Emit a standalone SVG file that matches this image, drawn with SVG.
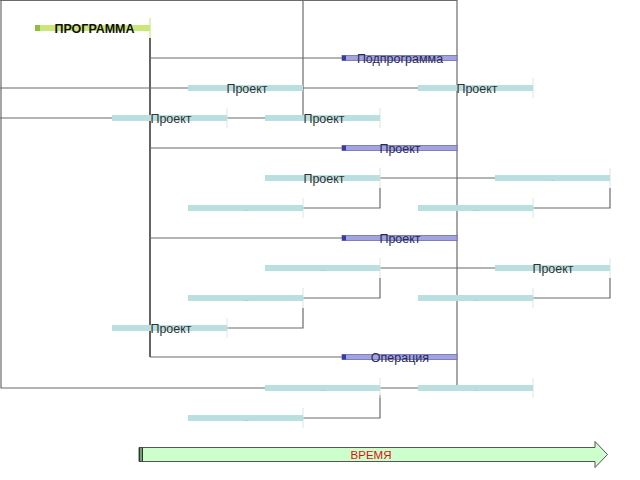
<svg xmlns="http://www.w3.org/2000/svg" width="640" height="480" viewBox="0 0 640 480">
<style>
.ln{fill:none;stroke:#6b6b6b;stroke-width:1.2}
.main{fill:none;stroke:#222;stroke-width:1.4}
.tb{fill:#b9dfe0}
.tk{stroke:#d6e6e6;stroke-width:1}
.pb{fill:#a3a3e0;stroke:#6a6ab8;stroke-width:0.8}
.pd{fill:#3a3aa0}
.t{font-family:"Liberation Sans",Arial,sans-serif;font-size:12.5px;fill:#333;text-anchor:middle}
.tp{font-family:"Liberation Sans",Arial,sans-serif;font-size:12.5px;fill:#2a2a55;text-anchor:middle}
.s{font-family:"Liberation Sans",Arial,sans-serif;font-size:6px;fill:#999;text-anchor:middle}
</style>
<rect width="640" height="480" fill="#fff"/>
<g id="connectors">
<path class="ln" d="M0,0.5 H457"/>
<path class="ln" d="M1,0 V388 H265"/>
<path class="ln" d="M457,0 V387"/>
<path class="ln" d="M303,0 V115"/>
<path class="main" d="M150,38 V357"/>
<path class="ln" d="M150,58 H342"/>
<path class="ln" d="M0,88 H188 M303,88 H418"/>
<path class="ln" d="M0,118 H112 M227,118 H265"/>
<path class="ln" d="M150,148 H342"/>
<path class="ln" d="M380,178 H495 M380,188 V208 H303 M610,188 V208 H533"/>
<path class="ln" d="M150,238 H342"/>
<path class="ln" d="M380,268 H495 M380,278 V298 H303 M610,278 V298 H533"/>
<path class="ln" d="M303,308 V328 H227"/>
<path class="ln" d="M150,357 H342"/>
<path class="ln" d="M380,388 H418 M380,395 V418 H303"/>
</g>
<g id="programma">
<line x1="150" y1="18" x2="150" y2="38" stroke="#d8ec9a" stroke-width="1.5"/>
<rect x="35" y="25" width="115" height="6" fill="#cde67a"/>
<rect x="35" y="25" width="5" height="6" fill="#8cc03a"/>
<text x="94.5" y="32.5" font-family="'Liberation Sans',Arial,sans-serif" font-size="12.5" font-weight="bold" fill="#111" text-anchor="middle">ПРОГРАММА</text>
</g>
<g id="podprogramma"><rect class="pb" x="342" y="55.5" width="115" height="5"/><rect class="pd" x="342" y="55.5" width="4" height="5"/><text class="tp" x="400" y="63">Подпрограмма</text></g>
<g id="p88a"><rect class="tb" x="188" y="85" width="115" height="6"/><text class="t" x="247" y="92.5">Проект</text></g>
<g id="p88b"><line class="tk" x1="533" y1="78" x2="533" y2="98"/><rect class="tb" x="418" y="85" width="115" height="6"/><text class="t" x="477" y="92.5">Проект</text></g>
<g id="p118a"><line class="tk" x1="227" y1="108" x2="227" y2="128"/><rect class="tb" x="112" y="115" width="115" height="6"/><text class="t" x="171" y="122.5">Проект</text></g>
<g id="p118b"><line class="tk" x1="380" y1="108" x2="380" y2="128"/><rect class="tb" x="265" y="115" width="115" height="6"/><text class="t" x="324" y="122.5">Проект</text></g>
<g id="pp148"><rect class="pb" x="342" y="145.5" width="115" height="5"/><rect class="pd" x="342" y="145.5" width="4" height="5"/><text class="tp" x="400" y="153">Проект</text></g>
<g id="p178a"><line class="tk" x1="380" y1="168" x2="380" y2="188"/><rect class="tb" x="265" y="175" width="115" height="6"/><text class="t" x="324" y="182.5">Проект</text></g>
<g id="p178b"><line class="tk" x1="610" y1="168" x2="610" y2="188"/><rect class="tb" x="495" y="175" width="115" height="6"/><text class="s" x="553" y="181">..</text></g>
<g id="p208a"><line class="tk" x1="303" y1="198" x2="303" y2="218"/><rect class="tb" x="188" y="205" width="115" height="6"/><text class="s" x="246" y="211">..</text></g>
<g id="p208b"><line class="tk" x1="533" y1="198" x2="533" y2="218"/><rect class="tb" x="418" y="205" width="115" height="6"/><text class="s" x="476" y="211">....</text></g>
<g id="pp238"><rect class="pb" x="342" y="235.5" width="115" height="5"/><rect class="pd" x="342" y="235.5" width="4" height="5"/><text class="tp" x="400" y="243">Проект</text></g>
<g id="p268a"><line class="tk" x1="380" y1="258" x2="380" y2="278"/><rect class="tb" x="265" y="265" width="115" height="6"/><text class="s" x="323" y="271">...</text></g>
<g id="p268b"><line class="tk" x1="610" y1="258" x2="610" y2="278"/><rect class="tb" x="495" y="265" width="115" height="6"/><text class="t" x="553" y="272.5">Проект</text></g>
<g id="p298a"><line class="tk" x1="303" y1="288" x2="303" y2="308"/><rect class="tb" x="188" y="295" width="115" height="6"/><text class="s" x="246" y="301">...</text></g>
<g id="p298b"><line class="tk" x1="533" y1="288" x2="533" y2="308"/><rect class="tb" x="418" y="295" width="115" height="6"/><text class="s" x="476" y="301">...</text></g>
<g id="p328"><line class="tk" x1="227" y1="318" x2="227" y2="338"/><rect class="tb" x="112" y="325" width="115" height="6"/><text class="t" x="171" y="332.5">Проект</text></g>
<g id="operacia"><rect class="pb" x="342" y="354.5" width="115" height="5"/><rect class="pd" x="342" y="354.5" width="4" height="5"/><text class="tp" x="400" y="362">Операция</text></g>
<g id="p387a"><line class="tk" x1="380" y1="378" x2="380" y2="398"/><rect class="tb" x="265" y="385" width="115" height="6"/><text class="s" x="323" y="391">...</text></g>
<g id="p387b"><line class="tk" x1="533" y1="378" x2="533" y2="398"/><rect class="tb" x="418" y="385" width="115" height="6"/><text class="s" x="476" y="391">..</text></g>
<g id="p417"><line class="tk" x1="303" y1="408" x2="303" y2="428"/><rect class="tb" x="188" y="415" width="115" height="6"/><text class="s" x="246" y="421">...</text></g>
<g id="vremya">
<path d="M139,447.5 H595 V441.5 L607.5,454.5 L595,467.5 V461.5 H139 Z" fill="#ccffcc" stroke="#555" stroke-width="1"/>
<rect x="139" y="447.5" width="1.5" height="14" fill="#2a3a2a"/>
<rect x="141.5" y="447.5" width="1.5" height="14" fill="#2a3a2a"/>
<text x="371" y="458.5" font-family="'Liberation Sans',Arial,sans-serif" font-size="11.5" fill="#dd1111" text-anchor="middle">ВРЕМЯ</text>
</g>
</svg>
